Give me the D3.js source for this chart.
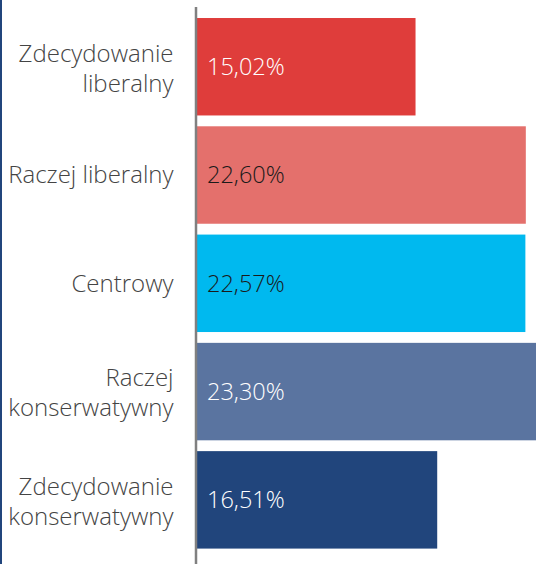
<!DOCTYPE html>
<html>
<head>
<meta charset="utf-8">
<script src="https://cdn.jsdelivr.net/npm/d3@7"></script>
<style>
  body { margin: 0; background: #fff; }
  svg { display: block; }
</style>
</head>
<body>
<svg id="chart" width="536" height="564"></svg>
<script>
// chart data
const categories = [
  ["Zdecydowanie", "liberalny"],
  ["Raczej liberalny"],
  ["Centrowy"],
  ["Raczej", "konserwatywny"],
  ["Zdecydowanie", "konserwatywny"]
];
const values = [15.02, 22.60, 22.57, 23.30, 16.51];
const colors = ["#df3d3b", "#e4706c", "#00b9ef", "#5a74a0", "#21457c"];
const textColors = ["#fff", "#1a1a1a", "#1a1a1a", "#fff", "#fff"];

const width = 536, height = 564;
const axisX = 196;
const font = "'Open Sans', Lato, sans-serif";

const svg = d3.select("#chart");

const x = d3.scaleLinear()
  .domain([0, d3.max(values)])
  .range([axisX + 1, width]);

const y = d3.scaleBand()
  .domain(d3.range(values.length))
  .range([12.6, 554])
  .paddingInner(0.1)
  .paddingOuter(0.05);

// left border
svg.append("rect")
  .attr("x", 0).attr("y", 0)
  .attr("width", 2).attr("height", height)
  .attr("fill", "#21457c");

// bars
svg.selectAll("rect.bar")
  .data(values)
  .enter().append("rect")
  .attr("class", "bar")
  .attr("x", x(0))
  .attr("y", (d, i) => y(i))
  .attr("width", d => x(d) - x(0))
  .attr("height", y.bandwidth())
  .attr("fill", (d, i) => colors[i]);

// value labels
svg.selectAll("text.val")
  .data(values)
  .enter().append("text")
  .attr("class", "val")
  .attr("x", x(0) + 10)
  .attr("y", (d, i) => y(i) + y.bandwidth() / 2)
  .attr("dy", "0.35em")
  .attr("font-family", font)
  .attr("font-size", 23.5)
  .attr("font-weight", 300)
  .attr("fill", (d, i) => textColors[i])
  .text(d => d.toFixed(2).replace(".", ",") + "%");

// category labels
const lineH = 30;
categories.forEach((lines, i) => {
  const cy = y(i) + y.bandwidth() / 2 + (lines.length > 1 ? 1.5 : 0);
  const t = svg.append("text")
    .attr("text-anchor", "end")
    .attr("font-family", font)
    .attr("font-size", 24)
    .attr("font-weight", 300)
    .attr("fill", "#444");
  lines.forEach((ln, j) => {
    t.append("tspan")
      .attr("x", axisX - 22.5)
      .attr("y", cy + (j - (lines.length - 1) / 2) * lineH)
      .attr("dy", "0.35em")
      .text(ln);
  });
});

// axis line
svg.append("line")
  .attr("x1", axisX).attr("x2", axisX)
  .attr("y1", 7).attr("y2", height)
  .attr("stroke", "#808080")
  .attr("stroke-width", 2.5);
</script>
</body>
</html>
